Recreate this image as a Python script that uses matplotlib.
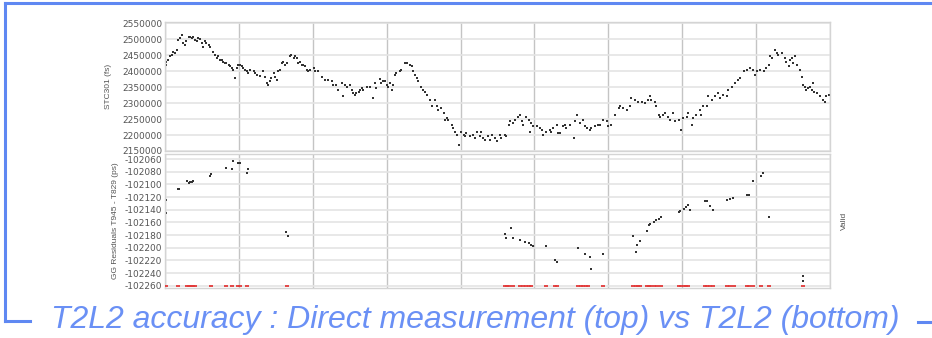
import matplotlib
matplotlib.use("Agg")
import matplotlib.pyplot as plt
from matplotlib.lines import Line2D

# --- data (x in days, 10 days per grid column) ---
top_days = [0.1, 0.2, 0.45, 0.7, 0.9, 1.1, 1.35, 1.6, 1.8, 2.0, 2.25, 2.5, 2.7, 2.9, 3.2, 3.4, 3.6, 3.8,
            4.1, 4.3, 4.5, 4.7, 5.0, 5.2, 5.4, 5.6, 5.9, 6.1, 6.5, 6.8, 7.0, 7.2, 7.4, 7.7, 7.9, 8.1,
            8.3, 8.6, 8.8, 9.0, 9.2, 9.5, 9.7, 9.9, 10.1, 10.4, 10.6, 10.8, 11.1, 11.3, 11.5, 12.0,
            12.2, 12.4, 12.9, 13.3, 13.5, 13.8, 14.0, 14.2, 14.4, 14.7, 14.9, 15.1, 15.3, 15.6, 15.8,
            16.0, 16.2, 16.5, 16.9, 17.1, 17.4, 17.6, 17.8, 18.0, 18.3, 18.5, 18.7, 18.9, 19.2, 19.4,
            19.6, 20.1, 20.3, 20.7, 21.2, 21.6, 22.1, 22.6, 22.8, 23.2, 23.4, 23.9, 24.1, 24.4, 24.6,
            25.0, 25.3, 25.5, 25.7, 25.9, 26.2, 26.4, 26.6, 26.8, 27.3, 27.7, 28.2, 28.4, 28.6, 29.1,
            29.3, 29.5, 29.8, 30.0, 30.2, 30.5, 30.7, 30.9, 31.1, 31.3, 31.8, 32.0, 32.5, 32.7, 33.1,
            33.4, 33.6, 33.8, 34.1, 34.3, 34.7, 34.9, 35.2, 35.4, 35.9, 36.1, 36.5, 36.8, 37.0, 37.4,
            37.7, 37.9, 38.1, 38.3, 38.8, 39.0, 39.2, 39.5, 39.8, 40.1, 40.4, 40.6, 40.8, 41.3, 41.7,
            41.9, 42.2, 42.6, 42.8, 43.1, 43.3, 43.7, 44.0, 44.2, 44.6, 44.9, 45.3, 45.5, 46.0, 46.2,
            46.5, 46.7, 47.1, 47.4, 47.8, 48.0, 48.3, 48.5, 48.9, 49.2, 49.4, 49.6, 49.8, 50.3, 50.7,
            51.0, 51.2, 51.6, 52.1, 52.3, 52.5, 53.0, 53.2, 53.4, 53.9, 54.1, 54.3, 54.8, 55.3, 55.5,
            55.7, 56.2, 56.6, 56.8, 57.1, 57.5, 57.7, 58.2, 58.6, 58.9, 59.3, 59.8, 60.0, 60.4, 60.9,
            61.4, 61.6, 62.0, 62.5, 62.9, 63.1, 63.6, 64.0, 64.5, 64.9, 65.4, 65.6, 65.8, 66.3, 66.5,
            66.8, 67.0, 67.4, 67.7, 68.1, 68.3, 68.8, 69.0, 69.5, 69.9, 70.1, 70.6, 70.8, 71.3, 71.5,
            71.9, 72.4, 72.6, 72.8, 73.3, 73.5, 74.0, 74.4, 74.9, 75.1, 75.5, 76.0, 76.2, 76.7, 77.1,
            77.6, 77.8, 78.3, 78.7, 79.2, 79.6, 79.9, 80.1, 80.5, 81.0, 81.4, 81.7, 81.9, 82.1, 82.6,
            82.8, 83.0, 83.5, 83.9, 84.1, 84.4, 84.6, 84.8, 85.0, 85.3, 85.5, 85.9, 86.2, 86.4, 86.6,
            86.8, 87.0, 87.3, 87.5, 87.7, 87.9, 88.2, 88.6, 89.1, 89.3, 89.5, 89.8]
top_vals = [2420000, 2430000, 2435000, 2446000, 2451000, 2461000, 2456000, 2467000, 2498000, 2503000,
            2513000, 2487000, 2482000, 2493000, 2508000, 2508000, 2503000, 2506000, 2498000, 2493000,
            2503000, 2500000, 2487000, 2477000, 2493000, 2487000, 2482000, 2477000, 2461000, 2451000,
            2441000, 2446000, 2435000, 2435000, 2430000, 2425000, 2425000, 2420000, 2415000, 2409000,
            2404000, 2378000, 2409000, 2420000, 2420000, 2415000, 2409000, 2404000, 2399000, 2394000,
            2404000, 2399000, 2394000, 2389000, 2385000, 2399000, 2383000, 2362000, 2357000, 2368000,
            2378000, 2394000, 2383000, 2373000, 2399000, 2404000, 2425000, 2430000, 2420000, 2425000,
            2446000, 2451000, 2441000, 2446000, 2441000, 2425000, 2430000, 2420000, 2420000, 2415000,
            2404000, 2399000, 2404000, 2409000, 2399000, 2399000, 2383000, 2373000, 2373000, 2368000,
            2357000, 2357000, 2342000, 2362000, 2321000, 2357000, 2352000, 2357000, 2342000, 2331000,
            2326000, 2331000, 2336000, 2342000, 2347000, 2342000, 2352000, 2350000, 2316000, 2362000,
            2347000, 2375000, 2362000, 2368000, 2368000, 2357000, 2352000, 2362000, 2342000, 2357000,
            2389000, 2394000, 2399000, 2404000, 2425000, 2425000, 2420000, 2415000, 2399000, 2389000,
            2378000, 2368000, 2352000, 2342000, 2336000, 2326000, 2310000, 2292000, 2310000, 2290000,
            2279000, 2284000, 2269000, 2248000, 2253000, 2248000, 2232000, 2222000, 2211000, 2201000,
            2170000, 2211000, 2201000, 2196000, 2206000, 2196000, 2201000, 2191000, 2211000, 2196000,
            2211000, 2191000, 2185000, 2196000, 2185000, 2201000, 2191000, 2180000, 2201000, 2191000,
            2201000, 2196000, 2232000, 2243000, 2237000, 2248000, 2258000, 2263000, 2243000, 2232000,
            2258000, 2248000, 2211000, 2237000, 2227000, 2227000, 2222000, 2217000, 2201000, 2211000,
            2217000, 2211000, 2222000, 2232000, 2206000, 2206000, 2227000, 2232000, 2222000, 2232000,
            2191000, 2243000, 2263000, 2237000, 2248000, 2227000, 2222000, 2217000, 2222000, 2227000,
            2232000, 2232000, 2248000, 2243000, 2227000, 2232000, 2263000, 2284000, 2290000, 2284000,
            2279000, 2290000, 2316000, 2310000, 2305000, 2305000, 2300000, 2310000, 2321000, 2310000,
            2305000, 2290000, 2263000, 2258000, 2263000, 2269000, 2258000, 2248000, 2269000, 2243000,
            2248000, 2217000, 2253000, 2258000, 2269000, 2232000, 2253000, 2263000, 2279000, 2263000,
            2290000, 2290000, 2321000, 2310000, 2321000, 2331000, 2316000, 2326000, 2321000, 2342000,
            2352000, 2362000, 2373000, 2378000, 2399000, 2404000, 2409000, 2404000, 2389000, 2399000,
            2404000, 2399000, 2409000, 2420000, 2446000, 2441000, 2467000, 2456000, 2451000, 2456000,
            2441000, 2430000, 2415000, 2435000, 2441000, 2425000, 2446000, 2420000, 2404000, 2383000,
            2357000, 2352000, 2342000, 2347000, 2352000, 2342000, 2362000, 2336000, 2331000, 2321000,
            2310000, 2305000, 2321000, 2326000]

bot_days = [0.1, 0.2, 1.7, 1.9, 3.0, 3.2, 3.4, 3.6, 3.8, 6.1, 6.2, 8.3, 9.0, 9.2, 9.9, 10.1, 11.1, 11.3,
            16.4, 16.7, 46.0, 46.2, 46.8, 47.1, 48.0, 48.7, 49.2, 49.6, 49.8, 51.6, 52.8, 53.0, 55.9,
            56.9, 57.5, 57.6, 59.3, 63.4, 63.7, 63.9, 64.3, 65.2, 65.5, 65.7, 66.2, 66.4, 66.8, 67.1,
            69.5, 69.7, 70.2, 70.5, 70.8, 71.0, 73.1, 73.4, 73.7, 74.1, 76.0, 76.4, 76.9, 78.7, 79.1,
            79.6, 80.7, 80.9, 81.7, 86.3, 86.4]
bot_vals = [-102124, -102145, -102108, -102108, -102094, -102098, -102096, -102096, -102095, -102087,
            -102083, -102074, -102075, -102063, -102066, -102067, -102082, -102076, -102175, -102181,
            -102178, -102185, -102169, -102184, -102188, -102191, -102192, -102196, -102197, -102198,
            -102219, -102222, -102201, -102210, -102215, -102234, -102210, -102182, -102206, -102196,
            -102189, -102174, -102164, -102162, -102159, -102156, -102154, -102152, -102143, -102142,
            -102139, -102136, -102133, -102141, -102127, -102126, -102134, -102141, -102124, -102123,
            -102122, -102117, -102116, -102094, -102087, -102082, -102152, -102245, -102253]

valid_days = [0.2, 1.8, 3.0, 3.2, 3.4, 3.6, 3.8, 4.1, 6.2, 8.3, 9.1, 9.9, 10.1, 11.1, 16.5, 46.0, 46.3,
              46.6, 47.1, 48.0, 48.5, 48.9, 49.3, 49.6, 51.6, 52.8, 53.0, 55.9, 56.3, 56.6, 57.0, 57.3,
              59.3, 63.4, 63.7, 64.0, 64.3, 65.2, 65.5, 65.7, 66.2, 66.6, 67.1, 69.5, 69.8, 70.2, 70.5,
              70.8, 73.1, 73.4, 73.7, 74.1, 76.0, 76.5, 77.0, 78.7, 79.1, 79.6, 80.7, 81.7, 86.3]
valid_flag = [0] * len(valid_days)

top_ticks = [2150000, 2200000, 2250000, 2300000, 2350000, 2400000, 2450000, 2500000, 2550000]
bot_ticks = [-102260, -102240, -102220, -102200, -102180, -102160, -102140, -102120, -102100,
             -102080, -102060]
x_ticks = [0, 10, 20, 30, 40, 50, 60, 70, 80, 90]

title = "T2L2 accuracy : Direct measurement (top) vs T2L2 (bottom)"
blue = "#5f88f2"
small = ["Liberation Sans", "DejaVu Sans"]

W, H = 932, 338
fig = plt.figure(figsize=(W / 100, H / 100), dpi=100)


def box(x0, y0, x1, y1):
    return [x0 / W, 1 - y1 / H, (x1 - x0) / W, (y1 - y0) / H]


def style(ax, ticks):
    ax.set_xlim(0, 90)
    ax.set_xticks(x_ticks)
    ax.set_xticklabels([])
    ax.set_yticks(ticks)
    ax.tick_params(length=0, labelsize=6.5, labelcolor="#555555", pad=2)
    ax.grid(True, axis="y", color="#e4e4e4", lw=1.2)
    ax.grid(True, axis="x", color="#c4c4c4", lw=1.0)
    ax.set_axisbelow(True)
    for s in ax.spines.values():
        s.set_color("#d4d4d4")
        s.set_linewidth(1.0)


ax1 = fig.add_axes(box(165, 22, 830, 151))
ax1.scatter(top_days, top_vals, s=1.5, c="#333333", marker="s", linewidths=0)
ax1.set_ylim(2150000, 2554000)
style(ax1, top_ticks)
ax1.set_yticklabels([str(v) for v in top_ticks])
ax1.set_ylabel("STC301 (fs)", fontsize=6, color="#555555", family=small, labelpad=7)

ax2 = fig.add_axes(box(165, 154, 830, 288))
ax2.scatter(bot_days, bot_vals, s=2.2, c="#333333", marker="s", linewidths=0)
ax2.set_ylim(-102263.6, -102052)
style(ax2, bot_ticks)
ax2.set_yticklabels([str(v) for v in bot_ticks])
ax2.set_ylabel("GG Residuals T945 - T829 (ps)", fontsize=6, color="#555555", family=small,
               labelpad=4)

ax3 = ax2.twinx()
ax3.plot(valid_days, valid_flag, ls="none", marker="_", ms=3, mew=1.3, color="#e23a3a")
ax3.set_ylim(-0.0175, 1)
ax3.set_yticks([])
for s in ax3.spines.values():
    s.set_visible(False)
ax3.set_ylabel("Valid", fontsize=6, color="#555555", family=small, labelpad=8)

# slide frame
fig.add_artist(Line2D([5 / W, 1], [1 - 3 / H, 1 - 3 / H], color=blue, lw=2.2))
fig.add_artist(Line2D([5 / W, 5 / W], [1 - 3 / H, 1 - 321 / H], color=blue, lw=2.2))
fig.add_artist(Line2D([5 / W, 30 / W], [1 - 321 / H, 1 - 321 / H], color=blue, lw=2.2))
fig.add_artist(Line2D([918 / W, 1], [1 - 322 / H, 1 - 322 / H], color=blue, lw=2.2))

fig.text(475 / W, 1 - 320 / H, title, ha="center", va="center", fontsize=23, style="italic",
         color="#6a90f5", family=["Liberation Sans", "DejaVu Sans"])

fig.savefig("out.png", dpi=100, facecolor="white")
